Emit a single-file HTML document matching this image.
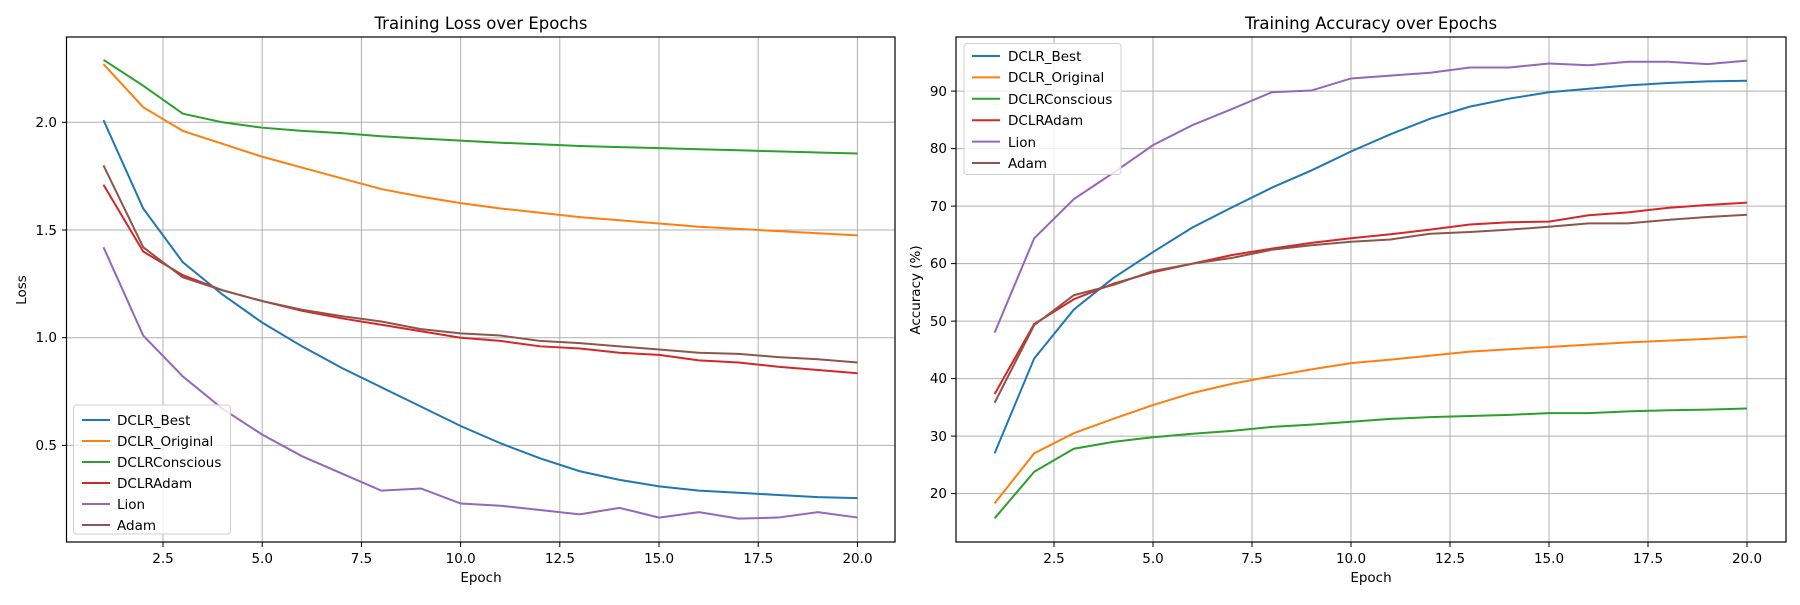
<!DOCTYPE html>
<html><head><meta charset="utf-8"><style>
body{margin:0;background:#fff;}
svg text{font-family:"DejaVu Sans","Liberation Sans",sans-serif;fill:#000;}
</style></head><body>
<svg id="s" width="1800" height="600" xmlns="http://www.w3.org/2000/svg">
<rect width="1800" height="600" fill="#fff"/>
<g id="grid" stroke="#b0b0b0" stroke-width="1"></g>
<g id="lines" fill="none" stroke-width="2"></g>
<rect x="66.5" y="37" width="828.5" height="505" fill="none" stroke="#000" stroke-width="1.2"/>
<rect x="956" y="37" width="830" height="505" fill="none" stroke="#000" stroke-width="1.2"/>
<g id="ticks" stroke="#000" stroke-width="1"></g>
<text x="481" y="29" font-size="16.5" text-anchor="middle">Training Loss over Epochs</text>
<text x="1371" y="29" font-size="16.5" text-anchor="middle">Training Accuracy over Epochs</text>
<g font-size="13.5" text-anchor="middle">
<text x="163" y="563">2.5</text><text x="262.2" y="563">5.0</text><text x="361.5" y="563">7.5</text><text x="460.7" y="563">10.0</text><text x="559.9" y="563">12.5</text><text x="659.1" y="563">15.0</text><text x="758.3" y="563">17.5</text><text x="857.5" y="563">20.0</text>
<text x="1054" y="563">2.5</text><text x="1153" y="563">5.0</text><text x="1252" y="563">7.5</text><text x="1351" y="563">10.0</text><text x="1450" y="563">12.5</text><text x="1549" y="563">15.0</text><text x="1648" y="563">17.5</text><text x="1747" y="563">20.0</text>
<text x="481" y="582">Epoch</text><text x="1371" y="582">Epoch</text>
</g>
<g font-size="13.5" text-anchor="end">
<text x="57" y="450">0.5</text><text x="57" y="342">1.0</text><text x="57" y="235">1.5</text><text x="57" y="127">2.0</text>
<text x="947" y="498">20</text><text x="947" y="441">30</text><text x="947" y="383">40</text><text x="947" y="326">50</text><text x="947" y="268">60</text><text x="947" y="211">70</text><text x="947" y="153">80</text><text x="947" y="96">90</text>
</g>
<text font-size="13.5" text-anchor="middle" transform="translate(26,290) rotate(-90)">Loss</text>
<text font-size="13.5" text-anchor="middle" transform="translate(920,290) rotate(-90)">Accuracy (%)</text>
<g id="leg1"><rect x="73.5" y="405" width="157" height="129" rx="3" fill="#fff" fill-opacity="0.8" stroke="#d0d0d0"/></g>
<g id="leg2"><rect x="964" y="43.5" width="157" height="131" rx="3" fill="#fff" fill-opacity="0.8" stroke="#d0d0d0"/></g>
<g font-size="13.5" id="legtext">
<text x="117" y="425">DCLR_Best</text><text x="117" y="446">DCLR_Original</text><text x="117" y="467">DCLRConscious</text><text x="117" y="488">DCLRAdam</text><text x="117" y="509">Lion</text><text x="117" y="530">Adam</text>
<text x="1008" y="61">DCLR_Best</text><text x="1008" y="82">DCLR_Original</text><text x="1008" y="104">DCLRConscious</text><text x="1008" y="125">DCLRAdam</text><text x="1008" y="147">Lion</text><text x="1008" y="168">Adam</text>
</g>
</svg>
<script>
const C=['#1f77b4','#ff7f0e','#2ca02c','#d62728','#9467bd','#8c564b'];
const L=[[2.01,1.60,1.35,1.20,1.07,0.96,0.86,0.77,0.68,0.59,0.51,0.44,0.38,0.34,0.31,0.29,0.28,0.27,0.26,0.255],
[2.27,2.07,1.96,1.90,1.84,1.79,1.74,1.69,1.655,1.625,1.60,1.58,1.56,1.545,1.53,1.515,1.505,1.495,1.485,1.475],
[2.29,2.17,2.04,2.00,1.975,1.96,1.95,1.935,1.925,1.915,1.905,1.898,1.89,1.885,1.88,1.875,1.87,1.865,1.86,1.855],
[1.71,1.40,1.29,1.22,1.17,1.125,1.09,1.06,1.03,1.00,0.985,0.96,0.95,0.93,0.92,0.895,0.885,0.865,0.85,0.835],
[1.42,1.01,0.82,0.67,0.55,0.45,0.37,0.29,0.30,0.23,0.22,0.20,0.18,0.21,0.165,0.19,0.16,0.165,0.19,0.165],
[1.80,1.42,1.28,1.22,1.17,1.13,1.10,1.075,1.04,1.02,1.01,0.985,0.975,0.96,0.945,0.93,0.925,0.91,0.9,0.885]];
const A=[[27,43.5,52,57.5,62,66.3,69.8,73.2,76.2,79.5,82.5,85.2,87.3,88.7,89.8,90.4,91,91.4,91.7,91.8],
[18.3,27,30.5,33,35.4,37.5,39.1,40.4,41.6,42.7,43.3,44,44.7,45.1,45.5,45.9,46.3,46.6,46.9,47.3],
[15.7,23.8,27.8,29,29.8,30.4,30.9,31.6,32,32.5,33,33.3,33.5,33.7,34,34,34.3,34.5,34.6,34.8],
[37.3,49.5,53.8,56.5,58.5,60,61.5,62.6,63.6,64.4,65.1,65.9,66.8,67.2,67.3,68.4,68.9,69.7,70.2,70.6],
[48,64.4,71.2,75.8,80.6,84.1,86.9,89.8,90.1,92.2,92.7,93.2,94.1,94.1,94.8,94.5,95.1,95.1,94.7,95.3],
[35.8,49.3,54.5,56.3,58.7,60,61,62.4,63.2,63.8,64.2,65.2,65.5,65.9,66.4,67,67,67.6,68.1,68.5]];
const NS='http://www.w3.org/2000/svg';
function el(p,t,a){const e=document.createElementNS(NS,t);for(const k in a)e.setAttribute(k,a[k]);document.getElementById(p).appendChild(e);}
const lx=e=>103.5+(e-1)*39.69, ly=v=>122.3+(2-v)*215.4;
const rx=e=>994.6+(e-1)*39.6, ry=v=>493.6-(v-20)*5.75;
for(let k=0;k<8;k++){const x=163+k*99.2;el('grid','line',{x1:x,x2:x,y1:37,y2:542});el('ticks','line',{x1:x,x2:x,y1:542,y2:547});
const x2=1054+k*99;el('grid','line',{x1:x2,x2:x2,y1:37,y2:542});el('ticks','line',{x1:x2,x2:x2,y1:542,y2:547});}
[0.5,1,1.5,2].forEach(v=>{const y=ly(v);el('grid','line',{x1:66.5,x2:895,y1:y,y2:y});el('ticks','line',{x1:62,x2:66.5,y1:y,y2:y});});
for(let v=20;v<=90;v+=10){const y=ry(v);el('grid','line',{x1:956,x2:1786,y1:y,y2:y});el('ticks','line',{x1:951,x2:956,y1:y,y2:y});}
for(let i=0;i<6;i++){
el('lines','polyline',{stroke:C[i],points:L[i].map((v,j)=>lx(j+1)+','+ly(v)).join(' ')});
el('lines','polyline',{stroke:C[i],points:A[i].map((v,j)=>rx(j+1)+','+ry(v)).join(' ')});
el('leg1','line',{x1:82,x2:110,y1:420+i*21,y2:420+i*21,stroke:C[i],'stroke-width':2});
el('leg2','line',{x1:972,x2:1000,y1:56+i*21.4,y2:56+i*21.4,stroke:C[i],'stroke-width':2});
}
</script>
</body></html>
